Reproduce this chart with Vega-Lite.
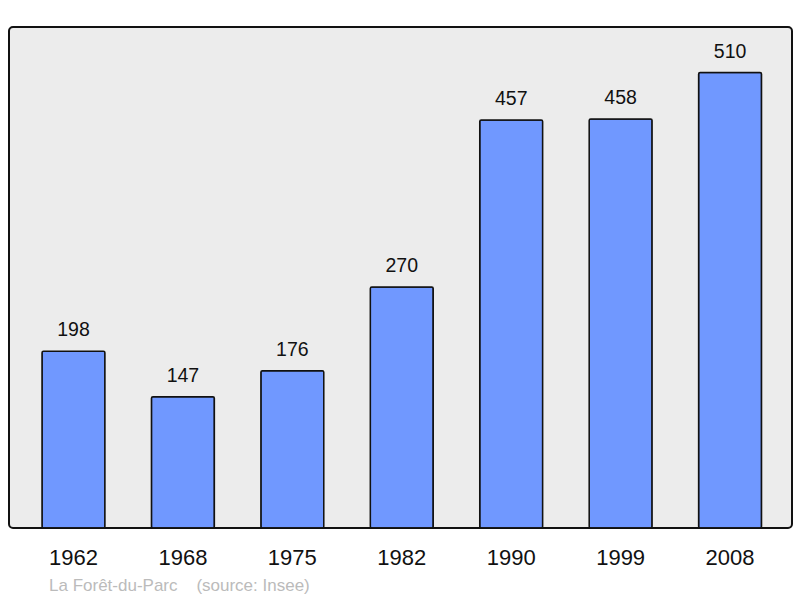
{
  "$schema": "https://vega.github.io/schema/vega-lite/v6.json",
  "width": 783,
  "height": 501,
  "padding": {"left": 9, "top": 27, "right": 8, "bottom": 5},
  "autosize": {"type": "pad"},
  "background": "white",
  "config": {
    "view": {"fill": "#ececec", "stroke": "#111111", "strokeWidth": 2, "cornerRadius": 4},
    "font": "Liberation Sans"
  },
  "title": {
    "text": "La Forêt-du-Parc\u00a0\u00a0\u00a0\u00a0(source: Insee)",
    "orient": "bottom",
    "anchor": "start",
    "dx": 40,
    "offset": 10,
    "color": "#bbbbbb",
    "fontSize": 17,
    "fontWeight": "normal",
    "font": "Liberation Sans"
  },
  "data": {
    "values": [
      {"year": "1962", "pop": 198},
      {"year": "1968", "pop": 147},
      {"year": "1975", "pop": 176},
      {"year": "1982", "pop": 270},
      {"year": "1990", "pop": 457},
      {"year": "1999", "pop": 458},
      {"year": "2008", "pop": 510}
    ]
  },
  "encoding": {
    "x": {
      "field": "year",
      "type": "nominal",
      "sort": null,
      "scale": {"paddingInner": 0.425, "paddingOuter": 0.29, "align": 0.52},
      "axis": {
        "title": null,
        "domain": false,
        "ticks": false,
        "labelAngle": 0,
        "labelFontSize": 22,
        "labelColor": "#111111",
        "labelBaseline": "alphabetic",
        "labelPadding": 36,
        "labelFont": "Liberation Sans"
      }
    },
    "y": {
      "field": "pop",
      "type": "quantitative",
      "scale": {"domain": [0, 561], "nice": false},
      "axis": null
    }
  },
  "layer": [
    {
      "mark": {"type": "bar", "fill": "#7098ff", "stroke": "#111111", "strokeWidth": 1.5, "cornerRadius": 1.5}
    },
    {
      "mark": {"type": "text", "baseline": "alphabetic", "dy": -15, "fontSize": 19.5, "color": "#111111", "font": "Liberation Sans"},
      "encoding": {"text": {"field": "pop", "type": "quantitative"}}
    }
  ]
}
